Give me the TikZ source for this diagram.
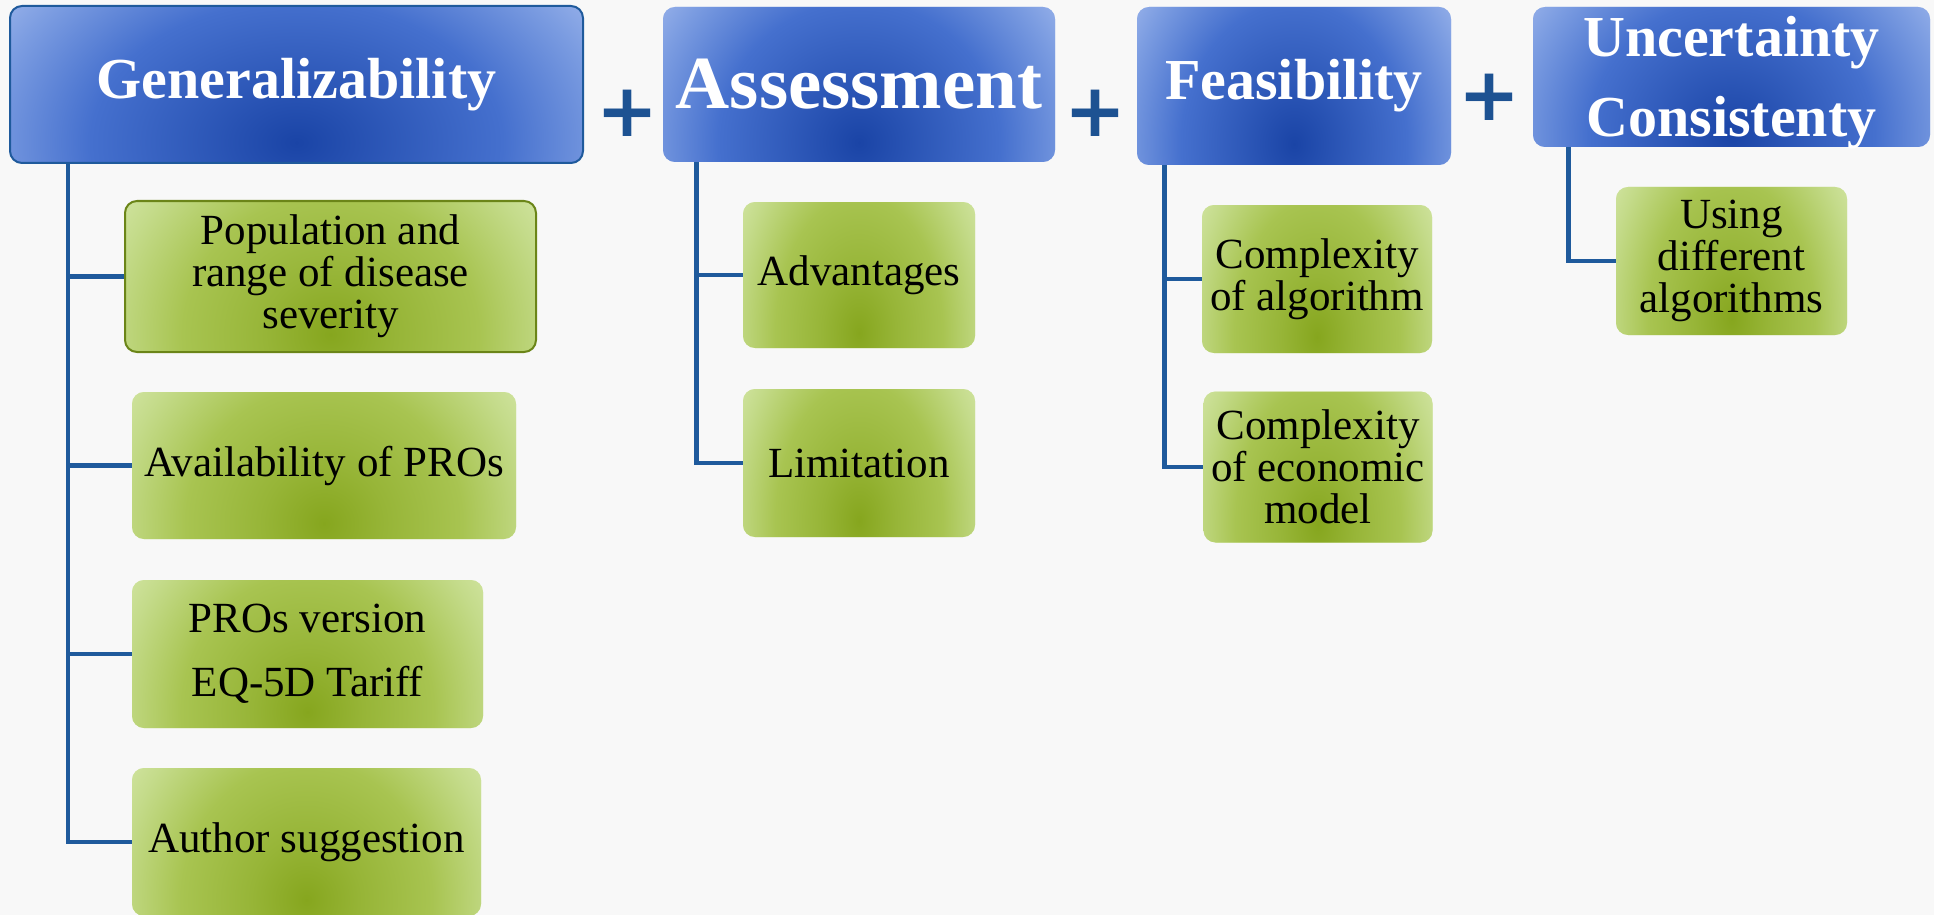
\documentclass[tikz,border=0pt]{standalone}
\usepackage{fontspec}
\setmainfont{Liberation Serif}
\newfontfamily\plusfont{DejaVu Sans}

\definecolor{bgwhite}{HTML}{F8F8F8}
\definecolor{linkblue}{HTML}{1F5A9C}
\definecolor{plusblue}{HTML}{1D5292}
\definecolor{blueDeep}{HTML}{1A44A6}
\definecolor{blueMid}{HTML}{4570CE}
\definecolor{blueLight}{HTML}{7B9CE1}
\definecolor{blueEdge}{HTML}{B0C4F1}
\definecolor{greenDeep}{HTML}{86A61E}
\definecolor{greenMid}{HTML}{A8C451}
\definecolor{greenLight}{HTML}{C4DB8A}
\definecolor{greenEdge}{HTML}{DCECB5}

\pgfdeclareradialshading{bluebox}{\pgfpoint{0bp}{0bp}}{color(0bp)=(blueDeep); color(8bp)=(blueDeep!55!blueMid); color(18bp)=(blueMid); color(27bp)=(blueLight); color(35bp)=(blueEdge); color(50bp)=(blueEdge)}
\pgfdeclareradialshading{greenbox}{\pgfpoint{0bp}{0bp}}{color(0bp)=(greenDeep); color(8bp)=(greenDeep!50!greenMid); color(18bp)=(greenMid); color(27bp)=(greenLight); color(35bp)=(greenEdge); color(50bp)=(greenEdge)}

\begin{document}
\begin{tikzpicture}[x=0.5pt,y=-0.5pt,
    head/.style = {rectangle, rounded corners=6pt, fill=blueEdge, text=white, align=center, inner sep=0pt, font=\bfseries\fontsize{29}{40}\selectfont,
        path picture={\shade[shading=bluebox] ([yshift=-88pt]path picture bounding box.south west) rectangle ([yshift=30pt]path picture bounding box.north east);}},
    item/.style = {rectangle, rounded corners=6pt, fill=greenEdge, text=black, align=center, inner sep=0pt, font=\fontsize{21.5}{21}\selectfont,
        path picture={\shade[shading=greenbox] ([yshift=-88pt]path picture bounding box.south west) rectangle ([yshift=30pt]path picture bounding box.north east);}},
    link/.style = {draw=linkblue, line width=2.2pt},
    plus/.style = {text=plusblue, inner sep=0pt, font=\plusfont\bfseries\fontsize{37}{37}\selectfont}]
    \fill[bgwhite] (0,0) rectangle (1934,915);
    \useasboundingbox (0,0) rectangle (1934,915);

    \node[head, draw=linkblue, line width=1pt, minimum width=286.5pt, minimum height=78.5pt] (gen) at (296.5,84.5) {Generalizability};
    \node[head, minimum width=196pt, minimum height=77.5pt, font=\bfseries\fontsize{37.5}{40}\selectfont] (asmt) at (859,84.5) {Assessment};
    \node[head, minimum width=157pt, minimum height=79pt] (feas) at (1294,86) {Feasibility};
    \node[head, minimum width=198.5pt, minimum height=70pt] (unc) at (1731.5,77) {\raisebox{-3pt}[\height][\depth]{Uncertainty}\\\raisebox{-3pt}[\height][\depth]{Consistenty}};

    \node[plus] (p1) at (627,113) {+};
    \node[plus] (p2) at (1095,113) {+};
    \node[plus] (p3) at (1489,97) {+};

    \node[item, draw=greenDeep!80!black, line width=1pt, minimum width=205.5pt, minimum height=75.5pt] (pop) at (330.5,276.5) {Population and\\range of disease\\severity};
    \node[item, minimum width=192pt, minimum height=73.5pt] (avail) at (324,465.5) {Availability of PROs};
    \node[item, minimum width=175.5pt, minimum height=74pt] (pros) at (307.5,654) {PROs version\\[11pt]EQ-5D Tariff};
    \node[item, minimum width=174.5pt, minimum height=74pt] (auth) at (306.5,842) {Author suggestion};

    \node[item, minimum width=116pt, minimum height=73pt] (adv) at (859,275) {Advantages};
    \node[item, minimum width=116pt, minimum height=74pt] (lim) at (859,463) {Limitation};

    \node[item, minimum width=115pt, minimum height=74pt] (calg) at (1317,279) {Complexity\\of algorithm};
    \node[item, minimum width=114.5pt, minimum height=75.5pt] (cecon) at (1318,467) {Complexity\\of economic\\model};

    \node[item, minimum width=115.5pt, minimum height=74pt] (usealg) at (1731.5,261) {Using\\different\\algorithms};

    \draw[link] ([xshift=29.5pt]gen.south west) |- (pop.west);
    \draw[link] ([xshift=29.5pt]gen.south west) |- (avail.west);
    \draw[link] ([xshift=29.5pt]gen.south west) |- (pros.west);
    \draw[link] ([xshift=29.5pt]gen.south west) |- (auth.west);

    \draw[link] ([xshift=17pt]asmt.south west) |- (adv.west);
    \draw[link] ([xshift=17pt]asmt.south west) |- (lim.west);

    \draw[link] ([xshift=14pt]feas.south west) |- (calg.west);
    \draw[link] ([xshift=14pt]feas.south west) |- (cecon.west);

    \draw[link] ([xshift=18pt]unc.south west) |- (usealg.west);
\end{tikzpicture}
\end{document}
